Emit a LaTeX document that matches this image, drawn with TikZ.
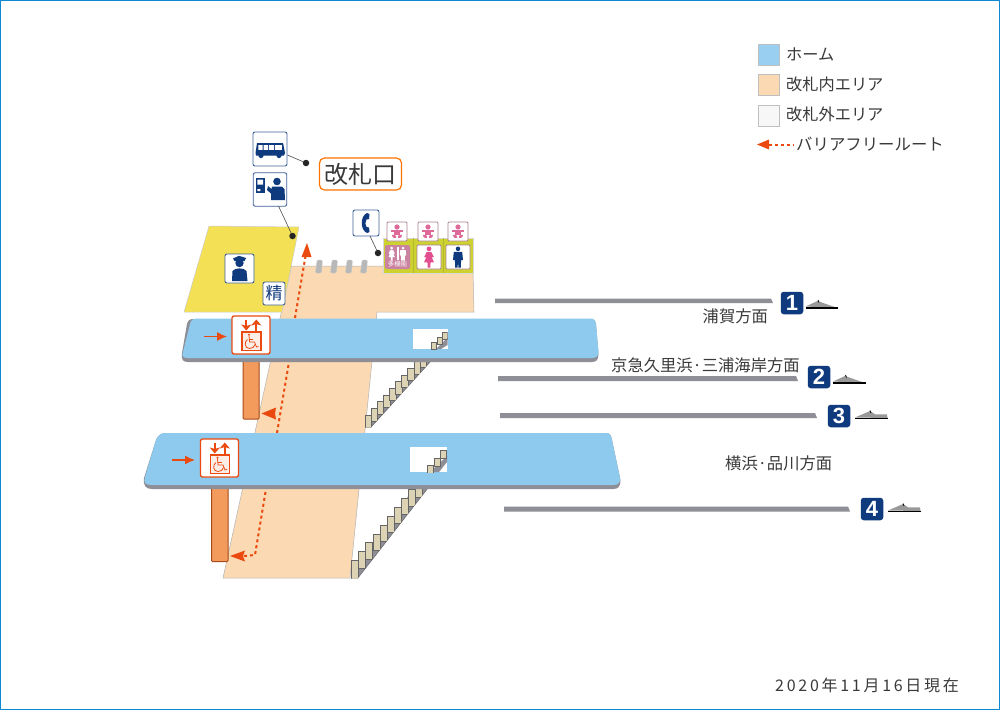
\documentclass[tikz,border=0pt]{standalone}
\usepackage{fontspec}
\setmainfont{Noto Sans CJK JP}
\newfontfamily\numfont{Liberation Sans}
\definecolor{plat}{HTML}{8ECAEE}
\definecolor{rim}{HTML}{8E8E96}
\definecolor{peach}{HTML}{FBD9B2}
\definecolor{yel}{HTML}{F4E055}
\definecolor{navy}{HTML}{0F3A7D}
\definecolor{red1}{HTML}{EA4A10}
\definecolor{olive}{HTML}{CDD231}
\definecolor{pinkk}{HTML}{E24E90}
\definecolor{babyp}{HTML}{DE6A9A}
\definecolor{mauve}{HTML}{C9829F}
\definecolor{tread}{HTML}{DCD2B4}
\definecolor{txt}{HTML}{3A3A3A}
\definecolor{shaft}{HTML}{F39B5D}
\definecolor{shaftd}{HTML}{A84A18}
\tikzset{
 lbl/.style={font=\fontsize{16.3}{16}\selectfont,text=txt,inner sep=0pt,anchor=west},
 iconbox/.style={draw=navy!80,line width=.9pt,fill=white,rounded corners=2pt,inner sep=0pt},
 wcbox/.style={draw=red1,line width=1.3pt,fill=white,rounded corners=2pt,inner sep=0pt,minimum size=38pt},
 dotn/.style={circle,fill=black!85,inner sep=0pt,minimum size=6.5pt},
 lead/.style={draw=black!70,line width=.6pt},
 route/.style={draw=red1,line width=2pt,dash pattern=on 3pt off 3pt},
 tip/.style={fill=red1,draw=none},
 badge/.style={fill=navy,rounded corners=3pt,inner sep=0pt,minimum size=22.5pt,text=white,font=\numfont\bfseries\fontsize{22}{22}\selectfont},
 track/.style={fill=rim,draw=none},
 legendbox/.style={draw=black!25,line width=.8pt,inner sep=0pt,minimum width=21pt,minimum height=21pt},
 wall/.style={fill=peach,draw=black!30,line width=.5pt},
 tile/.style={fill=white,draw=mauve!60!gray,line width=.8pt,rounded corners=1pt,inner sep=0pt},
}
\newcommand{\stairrun}[7]{%
 \foreach \i in {0,...,#7}{%
  \pgfmathsetmacro{\xa}{#1+\i*#3}\pgfmathsetmacro{\ya}{#2+\i*#4}%
  \draw[fill=tread,draw=black!60,line width=.5pt] (\xa,\ya) rectangle (\xa+#5,\ya+#6);
 }}
\newcommand{\personb}[1]{%
 \fill[#1] (0,.11) ellipse (.16 and .11);
 \fill[#1] (-.3,.26) -- (.3,.26) -- (.36,.65) -- (.22,.65) -- (.2,1) -- (.03,1) -- (0,.68) -- (-.03,1) -- (-.2,1) -- (-.22,.65) -- (-.36,.65) -- cycle;}
\newcommand{\persong}[1]{%
 \fill[#1] (0,.11) ellipse (.17 and .11);
 \fill[#1] (-.16,.25) -- (.16,.25) -- (.34,.5) -- (.2,.52) -- (.36,.76) -- (.11,.76) -- (.09,1) -- (.01,1) -- (0,.76) -- (-.01,1) -- (-.09,1) -- (-.11,.76) -- (-.36,.76) -- (-.2,.52) -- (-.34,.5) -- cycle;}
\newcommand{\baby}{%
 \fill[babyp] (0,-5) circle (2.6);
 \fill[babyp] (-5.6,-2.2) rectangle (5.6,0);
 \fill[babyp] (-3.4,-2) rectangle (3.4,2.6);
 \fill[babyp] (-5,2.8) .. controls (-5,6.2) and (-2,6.2) .. (-1,6) -- (-1,3.8) -- (-3,2.8) -- cycle;
 \fill[babyp] (5,2.8) .. controls (5,6.2) and (2,6.2) .. (1,6) -- (1,3.8) -- (3,2.8) -- cycle;}
\newcommand{\elev}{%
 \draw[red1,line width=1.7pt,-{Stealth[length=6pt,width=10pt,inset=1.5pt]}] (14.3,3.5) -- (14.3,14.5);
 \draw[red1,line width=1.7pt,-{Stealth[length=6pt,width=10pt,inset=1.5pt]}] (24.3,14.5) -- (24.3,3.5);
 \draw[red1,line width=1.7pt,fill=red1!10] (10,16) rectangle (29,34.5);
 \fill[red1] (17,18.7) circle (1.2);
 \draw[red1,line width=.8pt] (17,20) -- (17.6,26) -- (22.5,26) -- (24.5,31) -- (26.5,30.5);
 \draw[red1,line width=.8pt] (17.2,23) -- (21,23);
 \draw[red1,line width=.8pt] (15.5,23.5) .. controls (12,25.5) and (12.3,32.5) .. (17.5,32.5) .. controls (20.5,32.5) and (22.5,31) .. (23,28.5);}
\usetikzlibrary{arrows.meta}
\begin{document}
\begin{tikzpicture}[x=1pt,y=-1pt]
\useasboundingbox (0,0) rectangle (1000,710);
\fill[white] (0,0) rectangle (1000,710);
\draw[draw=cyan!70!blue,line width=1pt] (.5,.5) rectangle (999.5,709.5);

% legend
\node[legendbox,fill=plat!90!white,anchor=north west] (lg1) at (758,43.5) {};
\node[legendbox,fill=peach,anchor=north west] (lg2) at (758,73.5) {};
\node[legendbox,fill=black!3,anchor=north west] (lg3) at (758,104.5) {};
\node[lbl,font=\fontsize{16.2}{16}\selectfont] (lt1) at (786,54) {ホーム};
\node[lbl,font=\fontsize{16.2}{16}\selectfont] (lt2) at (786,84) {改札内エリア};
\node[lbl,font=\fontsize{16.2}{16}\selectfont] (lt3) at (786,114) {改札外エリア};
\node[lbl,font=\fontsize{16.4}{16}\selectfont] (lt4) at (796,144) {バリアフリールート};
\coordinate (lgA) at (769,144.5); \coordinate (lgB) at (794,144.5);
\draw[route,line width=2pt] (lgA) -- (lgB);
\fill[tip] (757,144.5) -- (769,139.5) -- (769,149.5) -- cycle;

% concourse and paid area
\draw[wall] (291.5,266) -- (383,266) -- (383,272) -- (473,272) -- (474,312) -- (377,312) -- (350,578) -- (223,578) -- cycle;
\draw[fill=yel,draw=black!20,line width=.5pt] (209,226) -- (299,227) -- (282,312) -- (184,312) -- cycle;

% gates
\foreach \x in {319,334,349,364}
 \draw[fill=black!28,draw=black!22,line width=.4pt,rounded corners=1.2pt] (\x-1.8,260) -- (\x+3.4,260) -- (\x+2.4,273) -- (\x-3.6,273) -- cycle;

% route
\coordinate (r2) at (255,555); \coordinate (r3) at (266,489);
\coordinate (r4) at (277,433); \coordinate (r5) at (289,362); \coordinate (r6) at (295,318); \coordinate (r7) at (305.5,256);
\draw[route] (244,556) -- (r2) -- (r3);
\draw[route] (r4) -- (r5);
\draw[route] (r6) -- (r7);
\fill[tip] (307,243) -- (311.5,257) -- (301.5,257) -- cycle;
\fill[tip] (230,556) -- (245,550.5) -- (243,556) -- (245,561.5) -- cycle;
\fill[tip] (261.5,413.5) -- (276,407.5) -- (275,413.5) -- (276,419.5) -- cycle;

% shafts
\draw[fill=shaft,draw=shaftd,line width=1pt,rounded corners=1pt] (243,360) rectangle (259,419);
\draw[fill=shaft,draw=shaftd,line width=1pt,rounded corners=1pt] (211.5,487) rectangle (228,561.5);

% stairs below the platforms
\fill[rim] (365,427.5) -- (371,427.5) -- (431,361) -- (420,361) -- cycle;
\draw[black!60,line width=.5pt] (370.5,427.5) -- (431,361);
\begin{scope}
\clip (360,427.5) -- (371,427.5) -- (431,361) -- (360,361) -- cycle;
\stairrun{365}{415}{6.1}{-6.7}{6.5}{12.5}{9}
\draw[fill=tread,draw=black!60,line width=.5pt] (365,415) rectangle (371.5,428);
\end{scope}
\fill[rim] (351,578.5) -- (357.5,578.5) -- (428,488) -- (414,488) -- cycle;
\draw[black!60,line width=.5pt] (357.5,578.5) -- (428,488);
\begin{scope}
\clip (345,578.5) -- (357.5,578.5) -- (428,488) -- (345,488) -- cycle;
\stairrun{351.5}{560.5}{7.1}{-8.9}{7}{16.5}{9}
\draw[fill=tread,draw=black!60,line width=.5pt] (351.5,560.5) rectangle (358.5,579);
\end{scope}

% platform 1
\fill[rim] (182,353) -- (187,324) .. controls (188,320) and (190,319) .. (194,319) -- (590,319) .. controls (594,319) and (595,320) .. (596,324) -- (598.5,354) .. controls (598.5,360) and (596,362) .. (592,362) -- (188,362) .. controls (183,362) and (181,360) .. (182,353) -- cycle;
\fill[plat] (183,352) -- (190,324) .. controls (191,320) and (193,318.5) .. (197,318.5) -- (590,318.5) .. controls (594,318.5) and (595,320) .. (596,324) -- (598.5,352) .. controls (598.5,356) and (596,358) .. (592,358) -- (188,358) .. controls (183,358) and (181.5,356) .. (183,352) -- cycle;
% platform 2
\fill[rim] (144,478) -- (156,440) .. controls (158,435) and (161,433) .. (166,433) -- (606,433) .. controls (610,433) and (611,435) .. (612,440) -- (620.5,480) .. controls (620.5,487) and (618,489) .. (613,489) -- (152,489) .. controls (146,489) and (143,486) .. (144,478) -- cycle;
\fill[plat] (145,477) -- (156,440) .. controls (158,435) and (161,433) .. (166,433) -- (606,433) .. controls (610,433) and (611,435) .. (612,440) -- (620,478) .. controls (620.5,483) and (618,485) .. (613,485) -- (152,485) .. controls (146,485) and (143,483) .. (145,477) -- cycle;

% openings
\fill[white] (413,329) rectangle (447.5,349);
\begin{scope}
\clip (413,329) rectangle (447.5,349);
\fill[rim] (436,349) -- (447.5,337.5) -- (447.5,345) -- (441,349) -- cycle;
\stairrun{431.5}{342}{5.3}{-5}{5.2}{7}{2}
\end{scope}
\fill[white] (409.5,447) rectangle (447,472);
\begin{scope}
\clip (409.5,447) rectangle (447,472);
\fill[rim] (430,472) -- (447,456) -- (447,462) -- (439,472) -- cycle;
\stairrun{427.7}{465.5}{6.2}{-7.4}{6}{8}{2}
\end{scope}

% elevators
\node[wcbox] (ev1) at (251,335) {};
\node[wcbox] (ev2) at (219.5,458) {};
\begin{scope}[shift={(232,316)}]\elev\end{scope}
\begin{scope}[shift={(200.5,439)}]\elev\end{scope}
\coordinate (a1) at (204,336.5); \coordinate (a1t) at (227,336.5);
\coordinate (a2) at (172,460); \coordinate (a2t) at (195,460);
\draw[red1,line width=1.4pt,-{Latex[length=10pt,width=9pt]}] (a1) -- (a1t);
\draw[red1,line width=1.4pt,-{Latex[length=10pt,width=9pt]}] (a2) -- (a2t);

% ticket gate label
\node[draw=orange!90!red,line width=1.2pt,rounded corners=5pt,fill=white,minimum width=82pt,minimum height=32pt,inner sep=0pt,font=\fontsize{24}{24}\selectfont,text=txt] (gate) at (360.5,174) {改札口};

% icon boxes
\node[iconbox,minimum size=34pt] (bus) at (270,149) {};
\node[iconbox,minimum size=33.5pt] (staff) at (270,189.5) {};
\node[iconbox,minimum width=26pt,minimum height=26pt] (phone) at (366,223) {};
\node[iconbox,minimum size=29pt] (off) at (239.5,268.5) {};
\node[iconbox,minimum width=22pt,minimum height=23pt,font=\fontsize{17}{17}\selectfont,text=navy] (fare) at (274,293.5) {精};
\node[dotn] (d1) at (306,163) {};
\node[dotn] (d2) at (292.5,236) {};
\node[dotn] (d3) at (378,253) {};
\draw[lead] (bus.east |- 0,155) -- (d1);
\draw[lead] (278.5,206) -- (d2);
\draw[lead] (370,236) -- (d3);

% bus
\fill[navy] (257,143) -- (283,143) -- (285,153) -- (284,155.5) -- (256,155.5) -- (255.5,153) -- cycle;
\fill[white] (258.3,145) rectangle (262.5,149.8) (263.7,145) rectangle (268,149.8) (269.2,145) rectangle (274,149.8) (275.2,145) rectangle (281.8,149.8);
\fill[navy] (261,155.5) circle (2.6) (279,155.5) circle (2.6);
% ticket staff
\fill[navy] (256,178) rectangle (264.5,193);
\fill[white] (257.3,179.5) rectangle (263.2,184.5) (257.3,189) rectangle (260.3,191);
\fill[navy] (277,181.5) circle (3.8);
\fill[navy] (272,186.5) -- (282,186.5) -- (284.5,189) -- (285,200) -- (271,200) -- (271,193.5) -- (267,190) -- (268,186) -- (271.5,189) -- cycle;
% phone
\fill[navy] (367,213) -- (369.5,214) -- (369,219) -- (366.5,219.5) .. controls (365,222) and (365,225) .. (366.5,227) -- (369,227.5) -- (369.5,232) -- (367,233) .. controls (360,230) and (360,216) .. (367,213) -- cycle;
% officer
\fill[navy] (239.5,263) circle (4.2);
\fill[navy] (233,258.5) -- (239,255.8) -- (246,258) -- (244.5,261) -- (234.5,261) -- cycle;
\fill[navy] (232.5,271) .. controls (235,267.5) and (244,267.5) .. (246.5,271) -- (247.5,281) -- (232,281) -- cycle;

% toilets
\draw[fill=olive,draw=black!15,line width=.4pt] (383,238) rectangle (473,273);
\draw[black!12!olive,line width=.5pt] (413,238) -- (413,273) (443,238) -- (443,273);
\node[fill=mauve,rounded corners=2pt,inner sep=0pt,minimum width=25pt,minimum height=24pt] (mp) at (397.5,257) {};
\node[tile,minimum width=24pt,minimum height=24pt] (wc1) at (429,257) {};
\node[tile,minimum width=24pt,minimum height=24pt] (wc2) at (458,257) {};
\node[tile,minimum width=20pt,minimum height=19pt] (b1) at (397,231.5) {};
\node[tile,minimum width=20pt,minimum height=19pt] (b2) at (428,231.5) {};
\node[tile,minimum width=20pt,minimum height=19pt] (b3) at (458,231.5) {};
\begin{scope}[shift={(397,232)}]\baby\end{scope}
\begin{scope}[shift={(428,232)}]\baby\end{scope}
\begin{scope}[shift={(458,232)}]\baby\end{scope}
\begin{scope}[shift={(429,246.5)},x=14pt,y=-21pt]\persong{pinkk}\end{scope}
\begin{scope}[shift={(458,246.5)},x=14pt,y=-21pt]\personb{navy}\end{scope}
\begin{scope}[shift={(391.7,246.5)},x=9pt,y=-14pt]\persong{white}\end{scope}
\begin{scope}[shift={(403,246.5)},x=9pt,y=-14pt]\personb{white}\end{scope}
\draw[white,line width=.6pt] (396.8,247) -- (396.8,260) (398.6,247) -- (398.6,260);
\node[inner sep=0pt,text=white,font=\fontsize{6.5}{6}\selectfont] (mpt) at (397.5,264.5) {多機能};

% tracks
\fill[track] (495,298.5) -- (771,298.5) -- (773,303) -- (495,303) -- cycle;
\fill[track] (498,376) -- (796,376) -- (798,381) -- (498,381) -- cycle;
\fill[track] (500,413) -- (815,413) -- (817,418) -- (500,418) -- cycle;
\fill[track] (504,506.5) -- (848,506.5) -- (850,511.5) -- (504,511.5) -- cycle;
\node[badge] (n1) at (792,303) {1};
\node[badge] (n2) at (819,377) {2};
\node[badge] (n3) at (839,416) {3};
\node[badge] (n4) at (872,509) {4};
% direction marks
\foreach \x/\y in {805.5/300.5,833/375.5}{
 \fill[black!40] (\x,\y+6) -- (\x+12,\y+.5) -- (\x+32,\y+7.5) -- cycle;
 \draw[black,line width=1.5pt] (\x,\y+7.7) -- (\x+32.5,\y+7.7);
 \draw[black,line width=.8pt] (\x+12.5,\y-.5) -- (\x+13.5,\y+2);}
\foreach \x/\y in {855/411,888/504}{
 \fill[black!40] (\x,\y+6.5) -- (\x+15,\y) -- (\x+20,\y+3.3) -- (\x+32,\y+3.3) -- (\x+32.5,\y+7) -- cycle;
 \draw[black,line width=1.5pt] (\x,\y+7.5) -- (\x+32.5,\y+7.5);
 \draw[black,line width=.8pt] (\x+15,\y-.5) -- (\x+16,\y+2);}

% direction labels
\node[lbl] (t1) at (702.5,316) {浦賀方面};
\node[lbl] (t2) at (611,365) {京急久里浜·三浦海岸方面};
\node[lbl] (t3) at (725,463) {横浜·品川方面};
\node[lbl,font=\fontsize{16}{16}\selectfont\addfontfeature{LetterSpace=17}] (date) at (775,685) {2020年11月16日現在};
\end{tikzpicture}
\end{document}
